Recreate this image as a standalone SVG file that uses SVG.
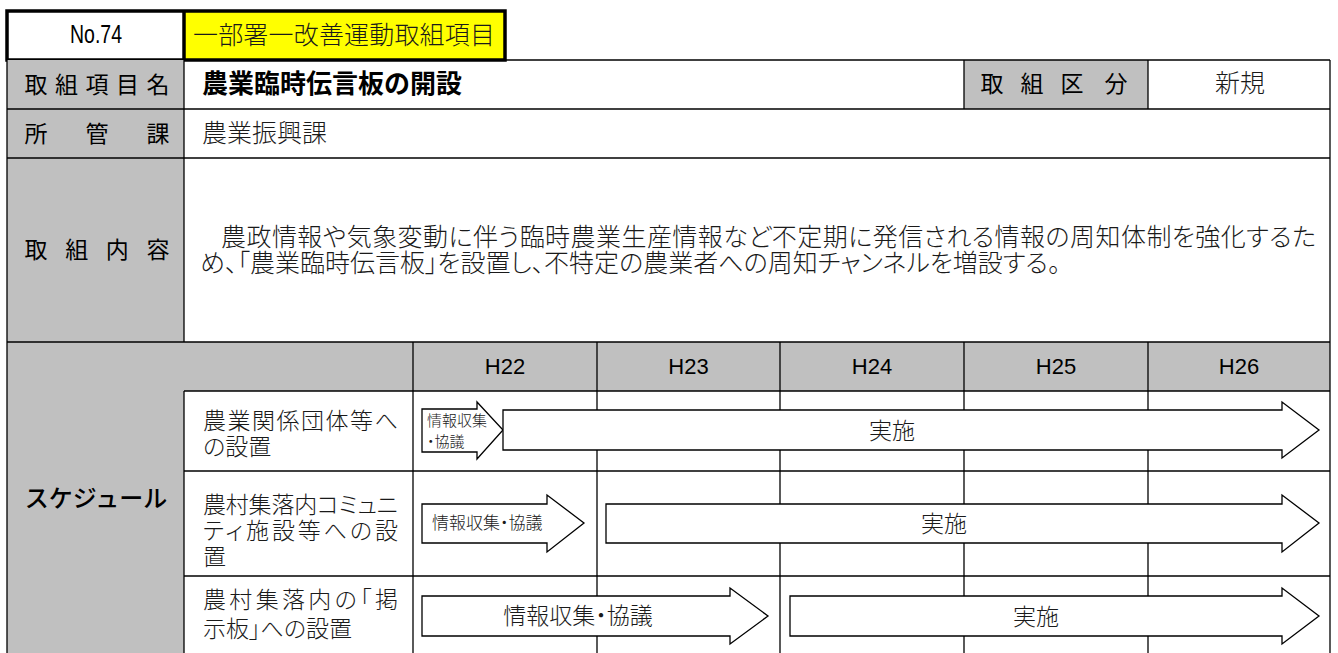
<svg xmlns="http://www.w3.org/2000/svg" width="1338" height="653" viewBox="0 0 1338 653">
<style>
text{font-family:"Noto Sans CJK JP","Noto Sans",sans-serif;fill:#000}
.lab{font-size:23px;text-anchor:middle}
.thin{font-weight:300;fill:#1a1a1a;font-feature-settings:"palt"}
.sub{font-size:23px;font-weight:300;fill:#1a1a1a;font-feature-settings:"palt"}
.g{fill:#C0C0C0}
.ln{stroke:#000;stroke-width:1.3;fill:none}
.thick{stroke:#000;stroke-width:3.5;fill:none}
.arr{fill:#fff;stroke:#000;stroke-width:1.3;stroke-linejoin:miter}
.hd{font-family:"Liberation Sans",Arial,sans-serif;font-size:22px;text-anchor:middle}
</style>
<rect width="1338" height="653" fill="#fff"/>

<g id="top-header">
<rect x="184" y="11" width="321" height="49" fill="#FFFF00"/>
<rect x="7" y="11" width="498" height="49" class="thick"/>
<line x1="184" y1="11" x2="184" y2="60" class="thick"/>
<text x="96" y="43" font-size="25" text-anchor="middle" textLength="52" lengthAdjust="spacingAndGlyphs" style="font-family:'Liberation Sans Narrow','Liberation Sans',sans-serif">No.74</text>
<text x="193" y="44" font-size="25" class="thin" textLength="302">一部署一改善運動取組項目</text>
</g>

<g id="row-title">
<rect x="7" y="60" width="177" height="49" class="g"/>
<rect x="964" y="60" width="184" height="49" class="g"/>
<text class="lab" x="36 66.5 97 127.5 158" y="92.5">取組項目名</text>
<text x="202" y="93" font-size="26" font-weight="bold">農業臨時伝言板の開設</text>
<text class="lab" x="992 1032 1072 1116" y="91.5">取組区分</text>
<text x="1240" y="92" font-size="25" text-anchor="middle" class="thin">新規</text>
</g>

<g id="row-dept">
<rect x="7" y="109" width="177" height="49" class="g"/>
<text class="lab" x="36 97 158" y="142">所管課</text>
<text x="202" y="142" font-size="25" class="thin">農業振興課</text>
</g>

<g id="row-content">
<rect x="7" y="158" width="177" height="184" class="g"/>
<text class="lab" x="36 76.7 117.3 158" y="258">取組内容</text>
<text x="221" y="246" font-size="25" class="thin" textLength="1095" lengthAdjust="spacing">農政情報や気象変動に伴う臨時農業生産情報など不定期に発信される情報の周知体制を強化するた</text>
<text x="200" y="272" font-size="25" class="thin">め、「農業臨時伝言板」を設置し、不特定の農業者への周知チャンネルを増設する。</text>
</g>

<g id="schedule-header">
<rect x="7" y="342" width="1323" height="49" class="g"/>
<rect x="7" y="391" width="177" height="262" class="g"/>
<text x="96" y="507" font-size="24" font-weight="500" text-anchor="middle">スケジュール</text>
<text class="hd" x="505" y="374">H22</text>
<text class="hd" x="688.5" y="374">H23</text>
<text class="hd" x="872" y="374">H24</text>
<text class="hd" x="1056" y="374">H25</text>
<text class="hd" x="1239" y="374">H26</text>
</g>

<g id="grid">
<line x1="7" y1="60" x2="7" y2="653" class="ln"/>
<line x1="505" y1="60" x2="1330" y2="60" class="ln"/>
<line x1="1330" y1="60" x2="1330" y2="653" class="ln"/>
<line x1="7" y1="109" x2="1330" y2="109" class="ln"/>
<line x1="7" y1="158" x2="1330" y2="158" class="ln"/>
<line x1="7" y1="342" x2="1330" y2="342" class="ln"/>
<line x1="184" y1="391" x2="1330" y2="391" class="ln"/>
<line x1="184" y1="471" x2="1330" y2="471" class="ln"/>
<line x1="184" y1="576" x2="1330" y2="576" class="ln"/>
<line x1="184" y1="60" x2="184" y2="342" class="ln"/>
<line x1="184" y1="391" x2="184" y2="653" class="ln"/>
<line x1="964" y1="60" x2="964" y2="109" class="ln"/>
<line x1="1148" y1="60" x2="1148" y2="109" class="ln"/>
<line x1="413" y1="342" x2="413" y2="653" class="ln"/>
<line x1="597" y1="342" x2="597" y2="653" class="ln"/>
<line x1="780" y1="342" x2="780" y2="653" class="ln"/>
<line x1="964" y1="342" x2="964" y2="653" class="ln"/>
<line x1="1148" y1="342" x2="1148" y2="653" class="ln"/>
</g>

<g id="task-labels">
<text x="203" y="429" class="sub" textLength="195" lengthAdjust="spacing">農業関係団体等へ</text>
<text x="203" y="455" class="sub">の設置</text>
<text x="203" y="513" class="sub" textLength="195" lengthAdjust="spacing">農村集落内コミュニ</text>
<text x="203" y="539" class="sub" textLength="195" lengthAdjust="spacing">ティ施設等への設</text>
<text x="203" y="565" class="sub">置</text>
<text x="203" y="608" class="sub" textLength="195" lengthAdjust="spacing">農村集落内の「掲</text>
<text x="203" y="637" class="sub">示板」への設置</text>
</g>

<g id="arrows">
<polygon class="arr" points="422,409 477,409 477,402 503,430 477,459 477,452 422,452"/>
<polygon class="arr" points="503,410 1282,410 1282,402 1319,430 1282,458 1282,450 503,450"/>
<polygon class="arr" points="422,504 547,504 547,495 584,523 547,552 547,543 422,543"/>
<polygon class="arr" points="606,504 1282,504 1282,495 1319,523 1282,552 1282,543 606,543"/>
<polygon class="arr" points="422,596 730,596 730,588 768,616 730,644 730,636 422,636"/>
<polygon class="arr" points="790,596 1282,596 1282,588 1319,616 1282,644 1282,636 790,636"/>
</g>

<g id="arrow-labels">
<text x="427" y="426" font-size="15" class="thin">情報収集</text>
<text x="427" y="447" font-size="15" class="thin">・協議</text>
<text x="892" y="439" font-size="23" class="thin" text-anchor="middle">実施</text>
<text x="432" y="529" font-size="17" class="thin">情報収集・協議</text>
<text x="944" y="532" font-size="23" class="thin" text-anchor="middle">実施</text>
<text x="578" y="624" font-size="23" class="thin" text-anchor="middle">情報収集・協議</text>
<text x="1036" y="625" font-size="23" class="thin" text-anchor="middle">実施</text>
</g>
</svg>
